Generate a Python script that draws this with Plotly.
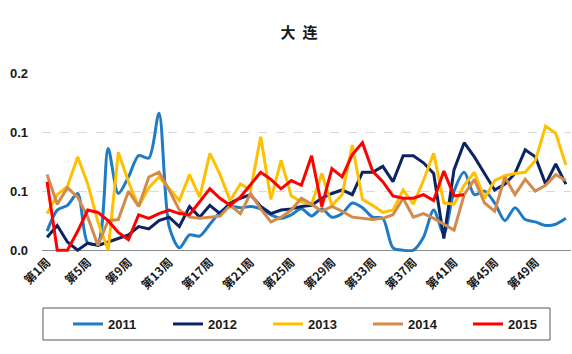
import plotly.graph_objects as go

weeks = [f"第{i}周" for i in range(1, 53)]
tick_weeks = weeks[::4]

y2011 = [0.016, 0.034, 0.038, 0.048, 0.006, 0.006, 0.086, 0.048, 0.062, 0.080,
         0.078, 0.116, 0.020, 0.002, 0.013, 0.012, 0.022, 0.032, 0.037, 0.036,
         0.037, 0.035, 0.030, 0.027, 0.030, 0.035, 0.029, 0.035, 0.028, 0.031,
         0.040, 0.036, 0.028, 0.027, 0.002, 0.000, 0.000, 0.011, 0.034, 0.014,
         0.050, 0.066, 0.047, 0.050, 0.040, 0.025, 0.036, 0.026, 0.024, 0.021,
         0.022, 0.027]
y2012 = [0.011, 0.021, 0.007, 0.000, 0.006, 0.004, 0.007, 0.010, 0.013, 0.020,
         0.018, 0.025, 0.028, 0.020, 0.037, 0.028, 0.038, 0.031, 0.040, 0.044,
         0.047, 0.037, 0.031, 0.034, 0.035, 0.037, 0.038, 0.044, 0.048, 0.051,
         0.047, 0.066, 0.066, 0.071, 0.058, 0.080, 0.080, 0.074, 0.065, 0.010,
         0.068, 0.091, 0.079, 0.065, 0.051, 0.056, 0.065, 0.085, 0.079, 0.056,
         0.073, 0.056]
y2013 = [0.031, 0.047, 0.054, 0.079, 0.056, 0.024, 0.000, 0.083, 0.058, 0.037,
         0.053, 0.062, 0.052, 0.042, 0.064, 0.045, 0.082, 0.064, 0.042, 0.056,
         0.051, 0.096, 0.043, 0.076, 0.046, 0.041, 0.039, 0.065, 0.038, 0.047,
         0.089, 0.043, 0.038, 0.032, 0.034, 0.051, 0.039, 0.059, 0.082, 0.040,
         0.039, 0.055, 0.066, 0.044, 0.059, 0.063, 0.065, 0.066, 0.076, 0.105,
         0.099, 0.072]
y2014 = [0.064, 0.039, 0.053, 0.045, 0.028, 0.004, 0.025, 0.026, 0.050, 0.037,
         0.062, 0.066, 0.051, 0.034, 0.028, 0.027, 0.028, 0.029, 0.038, 0.031,
         0.048, 0.035, 0.024, 0.028, 0.034, 0.044, 0.039, 0.033, 0.037, 0.033,
         0.028, 0.027, 0.026, 0.027, 0.030, 0.044, 0.028, 0.031, 0.027, 0.022,
         0.017, 0.047, 0.060, 0.040, 0.033, 0.062, 0.047, 0.060, 0.050, 0.055,
         0.064, 0.059]
y2015 = [0.058, 0.000, 0.000, 0.016, 0.034, 0.032, 0.025, 0.015, 0.009, 0.030,
         0.027, 0.031, 0.034, 0.031, 0.030, 0.041, 0.052, 0.044, 0.038, 0.045,
         0.056, 0.066, 0.060, 0.052, 0.059, 0.055, 0.080, 0.037, 0.069, 0.062,
         0.081, 0.091, 0.067, 0.058, 0.046, 0.044, 0.044, 0.047, 0.042, 0.067,
         0.046, 0.047]

y_tickvals = [0, 0.05, 0.10, 0.15]
y_ticktext = ["0.0", "0.1", "0.1", "0.2"]

series = [
    ("2011", y2011, "#1F7BC4", "spline"),
    ("2012", y2012, "#0C2461", "linear"),
    ("2013", y2013, "#FFC000", "linear"),
    ("2014", y2014, "#D38B4B", "linear"),
    ("2015", y2015, "#FF0000", "linear"),
]

fig = go.Figure()
for name, vals, color, shape in series:
    line = dict(color=color, width=3, shape=shape)
    if shape == "spline":
        line["smoothing"] = 0.8
    fig.add_trace(go.Scatter(x=weeks[:len(vals)], y=vals, mode="lines",
                             name=name, line=line))

W, H = 572, 354
ml, mr, mt, mb = 42, 1, 73, 102
pw, ph = W - ml - mr, H - mt - mb

def px_x(x):
    return (x - ml) / pw

def px_y(y):
    return (H - mb - y) / ph

fig.update_layout(
    width=W, height=H,
    margin=dict(l=ml, r=mr, t=mt, b=mb),
    paper_bgcolor="white", plot_bgcolor="white",
    font=dict(family="Liberation Sans, Arial, Noto Sans CJK SC", color="#1A1A1A"),
    title=dict(text="大\u00a0\u00a0连", xref="container", yref="container",
               x=299 / W, xanchor="center", y=1 - 32.5 / H, yanchor="middle",
               font=dict(size=15, family="Noto Sans CJK SC", weight="bold", color="#1A1A1A")),
    showlegend=True,
    legend=dict(orientation="h", x=px_x(68), xanchor="left",
                y=px_y(324), yanchor="middle",
                entrywidth=55, entrywidthmode="pixels",
                font=dict(size=13, weight="bold", family="Liberation Sans, Arial"),
                bgcolor="rgba(0,0,0,0)", borderwidth=0),
    shapes=[dict(type="rect", xref="paper", yref="paper",
                 x0=px_x(43), x1=px_x(550), y0=px_y(340), y1=px_y(308),
                 line=dict(color="#595959", width=1), fillcolor="rgba(0,0,0,0)")],
)
fig.update_xaxes(type="category", categoryorder="array", categoryarray=weeks,
                 range=[-0.5, 51.5], showgrid=False, showline=False, zeroline=False,
                 tickmode="array", tickvals=tick_weeks, ticktext=tick_weeks,
                 tickangle=-45, ticks="",
                 tickfont=dict(size=12, family="Noto Sans CJK SC", weight="bold", color="#1A1A1A"))
fig.update_yaxes(range=[-0.0015, 0.15], tickmode="array", tickvals=y_tickvals,
                 ticktext=y_ticktext, showgrid=True, gridcolor="#D9D9D9",
                 griddash="dash", gridwidth=1, zeroline=True, zerolinecolor="#8C8C8C",
                 zerolinewidth=1.2, showline=False, ticks="", ticklabelstandoff=13,
                 tickfont=dict(size=13, weight="bold", family="Liberation Sans, Arial", color="#1A1A1A"))

fig.write_html("out.html")
